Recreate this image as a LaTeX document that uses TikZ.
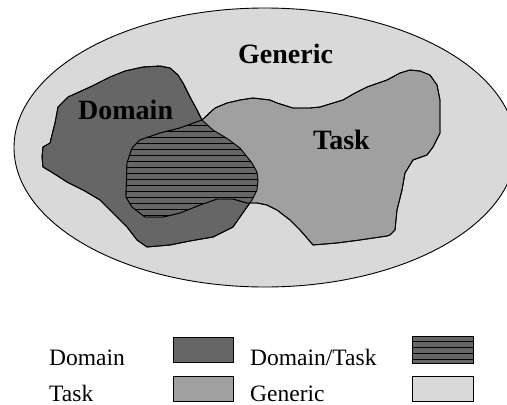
\documentclass[tikz,border=0pt]{standalone}
\usepackage{fontspec}
\setmainfont{Liberation Serif}
\usepackage{tikz}
\usetikzlibrary{positioning, calc}
\definecolor{domainFill}{HTML}{666666}
\definecolor{taskFill}{HTML}{A0A0A0}
\definecolor{genericFill}{HTML}{D9D9D9}
\newcommand{\domainblob}{(143,67) -- (160,66) -- (170,68) -- (178,75) -- (183,83) -- (190,97) -- (196,108) -- (202,120) -- (213,130) -- (228,139) -- (240,148) -- (252,163) -- (257,172) -- (258,180) -- (257,190) -- (252,200) -- (247,207) -- (240,217) -- (233,227) -- (213,237) -- (190,241) -- (170,245) -- (147,247) -- (137,240) -- (127,227) -- (113,213) -- (100,200) -- (83,190) -- (67,182) -- (53,173) -- (43,167) -- (42,157) -- (43,147) -- (50,143) -- (55,123) -- (58,107) -- (68,97) -- (90,87) -- (110,77) -- (125,71) -- cycle}
\newcommand{\taskblob}{(202,120) -- (215,108) -- (227,103) -- (240,100) -- (253,98) -- (270,100) -- (277,103) -- (293,108) -- (310,108) -- (320,107) -- (343,100) -- (355,93) -- (367,87) -- (387,80) -- (400,73) -- (410,70) -- (420,71) -- (430,75) -- (437,85) -- (440,100) -- (440,133) -- (433,147) -- (427,155) -- (413,160) -- (405,173) -- (402,190) -- (397,210) -- (395,230) -- (390,235) -- (387,236) -- (360,240) -- (337,243) -- (313,245) -- (307,238) -- (300,230) -- (290,220) -- (277,210) -- (267,205) -- (257,203) -- (247,203) -- (233,199) -- (217,199) -- (200,205) -- (180,213) -- (163,217) -- (145,217) -- (132,207) -- (126,197) -- (127,163) -- (132,148) -- (140,140) -- (160,133) -- (180,128) -- cycle}
\tikzset{
  blob/.style={draw=black, line width=0.9pt, line join=round},
  bigtxt/.style={inner sep=0pt, anchor=base west, font=\fontsize{28}{30}\selectfont\bfseries},
  keytxt/.style={inner sep=0pt, anchor=base west, font=\fontsize{23.5}{26}\selectfont},
  keybox/.style={draw=black, line width=0.9pt, minimum width=60pt, minimum height=25pt, inner sep=0pt},
}

\begin{document}
\begin{tikzpicture}[x=1pt, y=-1pt]
  \clip (0,0) rectangle (507,405);
  \fill[white] (0,0) rectangle (507,405);

  % outer ellipse
  \draw[blob, fill=genericFill] (265,147.5) ellipse [x radius=251, y radius=139.5];

  % the two regions
  \draw[blob, fill=domainFill] \domainblob;
  \draw[blob, fill=taskFill] \taskblob;

  % overlap, hatched
  \begin{scope}
    \clip \domainblob;
    \clip \taskblob;
    \fill[domainFill] (100,90) rectangle (270,250);
    \foreach \y in {125,131,...,221}
      \draw[line width=0.8pt] (100,\y) -- (270,\y);
  \end{scope}
  \draw[blob] \domainblob;
  \draw[blob] \taskblob;

  \node[bigtxt] (generic) at (238,63) {Generic};
  \node[bigtxt] (domain) at (78,119) {Domain};
  \node[bigtxt] (task) at (313,149) {Task};

  % key
  \node[keytxt] (domainlbl) at (49,365) {Domain};
  \node[keytxt] (tasklbl) at (49,401) {Task};
  \node[keybox, fill=domainFill] (domainkey) at (203,349.5) {};
  \node[keybox, fill=taskFill, below=14pt of domainkey] (taskkey) {};
  \node[keytxt] (bothlbl) at (250,365) {Domain/Task};
  \node[keytxt] (genericlbl) at (250,401) {Generic};
  \node[keybox, fill=domainFill, minimum width=61pt, minimum height=27pt] (bothkey) at (442.5,349.5) {};
  \foreach \k in {1,2,3,4}
    \draw[line width=0.8pt] ([yshift=-\k*6pt]bothkey.north west) -- ([yshift=-\k*6pt]bothkey.north east);
  \node[keybox, fill=genericFill, minimum width=61pt] (generickey) at (442.5,389) {};
\end{tikzpicture}
\end{document}
